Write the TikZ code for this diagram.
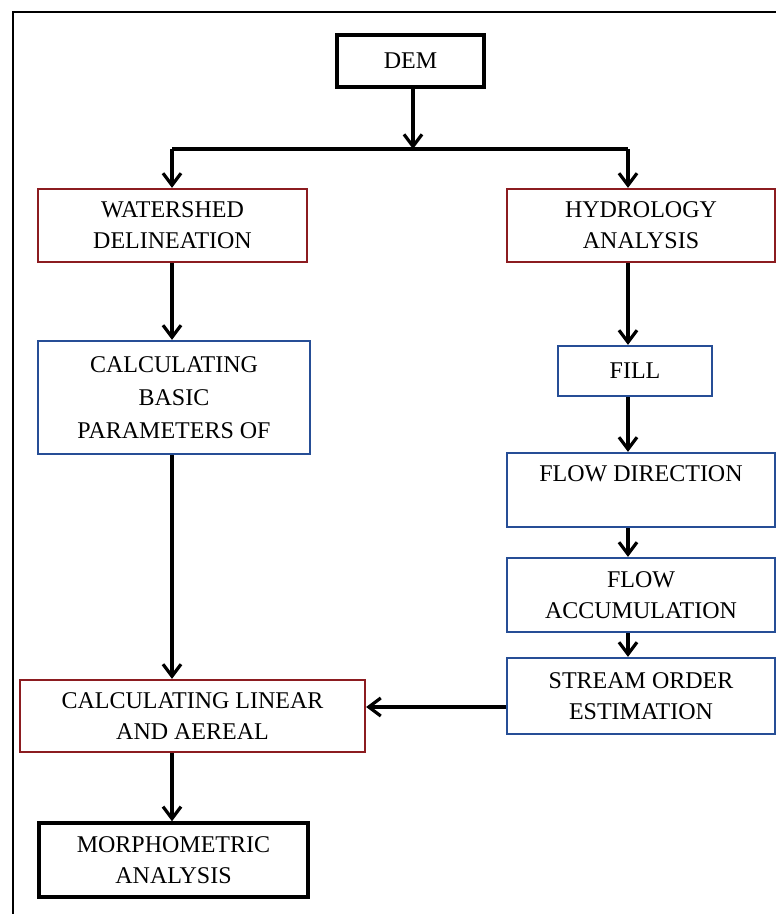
\documentclass[tikz,border=0pt]{standalone}
\usepackage{fontspec}
\setmainfont{Liberation Serif}
\usetikzlibrary{arrows.meta,positioning}
\definecolor{boxred}{RGB}{140,28,32}
\definecolor{boxblue}{RGB}{38,78,150}
\tikzset{
	box/.style={draw, line width=2.2pt, align=center, inner sep=0pt, font=\fontsize{24}{31}\selectfont},
	redbox/.style={box, draw=boxred},
	bluebox/.style={box, draw=boxblue},
	blackbox/.style={box, draw=black, line width=3.4pt},
	arr/.style={line width=3.2pt, -{Straight Barb[length=12pt, width=18pt]}},
	conn/.style={line width=3.2pt}
}
\begin{document}
\begin{tikzpicture}[x=1pt, y=-1pt]
		%%%%% START %%%%%
		\useasboundingbox (0, 0) rectangle (776, 914);
		
		\draw[line width=1.6pt] (13, 914) -- (13, 12) -- (776, 12);
		
		\node[blackbox, minimum width=147pt, minimum height=52pt] (dem) at (410.5, 61) {DEM};
		
		\node[redbox, minimum width=269pt, minimum height=73pt] (watershed) at (172.5, 225.5) {WATERSHED\\DELINEATION};
		\node[redbox, minimum width=268pt, minimum height=73pt] (hydro) at (641, 225.5) {HYDROLOGY\\ANALYSIS};
		
		\node[bluebox, minimum width=272pt, minimum height=113pt, font=\fontsize{24}{33}\selectfont] (basic) at (174, 397.5) {CALCULATING\\BASIC\\PARAMETERS OF};
		\node[bluebox, minimum width=154pt, minimum height=50pt] (fill) at (635, 371) {FILL};
		
		\node[bluebox, minimum width=268pt, minimum height=74pt] (flowdir) at (641, 490) {};
		\node[box, draw=none, below=13pt of flowdir.north] (flowdirtext) {FLOW DIRECTION};
		\node[bluebox, minimum width=268pt, minimum height=74pt] (flowacc) at (641, 595) {FLOW\\ACCUMULATION};
		\node[bluebox, minimum width=268pt, minimum height=76pt] (stream) at (641, 696) {STREAM ORDER\\ESTIMATION};
		
		\node[redbox, minimum width=345pt, minimum height=72pt] (linear) at (192.5, 716) {CALCULATING LINEAR\\AND AEREAL};
		\node[blackbox, minimum width=269pt, minimum height=74pt] (morph) at (173.5, 860) {MORPHOMETRIC\\ANALYSIS};
		
		\coordinate (jl) at (172, 149);
		\coordinate (jr) at (628, 149);
		
		\draw[arr] (dem.south -| 413, 0) -- (413, 149);
		\draw[conn] (jl) -- (jr);
		\draw[arr] (jl) -- (jl |- watershed.north);
		\draw[arr] (jr) -- (jr |- hydro.north);
		
		\draw[arr] (jl |- watershed.south) -- (jl |- basic.north);
		\draw[arr] (jl |- basic.south) -- (jl |- linear.north);
		\draw[arr] (jl |- linear.south) -- (jl |- morph.north);
		
		\draw[arr] (jr |- hydro.south) -- (jr |- fill.north);
		\draw[arr] (jr |- fill.south) -- (jr |- flowdir.north);
		\draw[arr] (jr |- flowdir.south) -- (jr |- flowacc.north);
		\draw[arr] (jr |- flowacc.south) -- (jr |- stream.north);
		
		\draw[arr] (stream.west |- 0, 707) -- (linear.east |- 0, 707);
		%%%%% END %%%%%
	\end{tikzpicture}
\end{document}
